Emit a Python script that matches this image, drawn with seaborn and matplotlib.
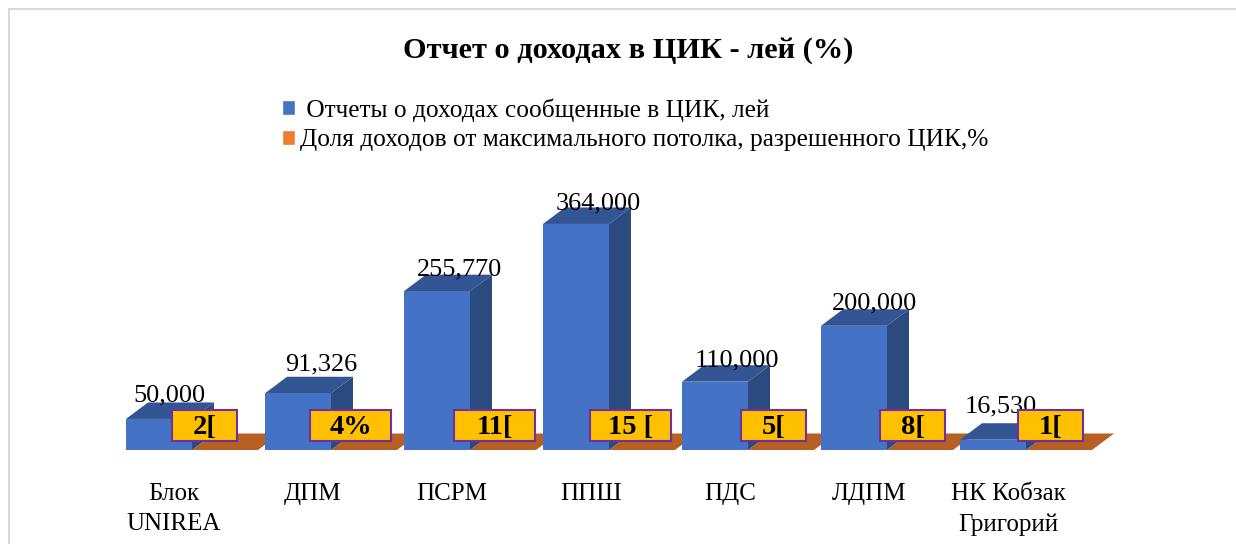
import matplotlib
matplotlib.use('Agg')
import matplotlib.pyplot as plt
from matplotlib.patches import Polygon, Rectangle
import pandas as pd
import seaborn as sns

categories = ['Блок\nUNIREA', 'ДПМ', 'ПСРМ', 'ППШ', 'ПДС', 'ЛДПМ', 'НК Кобзак\nГригорий']
income_lei = [50000, 91326, 255770, 364000, 110000, 200000, 16530]
share_pct = [2, 4, 11, 15, 5, 8, 1]
income_labels = ['50,000', '91,326', '255,770', '364,000', '110,000', '200,000', '16,530']
share_labels = ['2[', '4%', '11[', '15 [', '5[', '8[', '1[']
series_names = [' Отчеты о доходах сообщенные в ЦИК, лей',
                'Доля доходов от максимального потолка, разрешенного ЦИК,%']

W, H = 1236, 544
BASE = 450          # pixel row of the floor
STEP = 139          # pixels per category
PX_PER_LEI = 0.000621
DX, DY = 22, 16.5   # 3d depth in pixels

sns.set_theme(style='white')
plt.rcParams['font.family'] = ['Liberation Serif', 'DejaVu Serif']

fig = plt.figure(figsize=(W / 100, H / 100), dpi=100)
ax = fig.add_axes([0, (H - BASE) / H, 1, (BASE - 150) / H])

df = pd.DataFrame({
    'cat': categories * 2,
    'val': income_lei + share_pct,
    'series': [series_names[0]] * 7 + [series_names[1]] * 7,
})
sns.barplot(data=df, x='cat', y='val', hue='series', order=categories,
            palette=['#4472C4', '#ED7D31'], width=0.95, gap=0, saturation=1,
            errorbar=None, ax=ax, legend=False, linewidth=0, edgecolor='none')

ax.set_xlim(-192 / STEP, (W - 192) / STEP)
ax.set_ylim(0, (BASE - 150) / PX_PER_LEI / 1)
x_u = DX / STEP
y_u = DY / PX_PER_LEI

n = len(categories)
blue = ax.patches[:n]
orange = ax.patches[n:2 * n]


def poly(pts, color, z):
    ax.add_patch(Polygon(pts, closed=True, facecolor=color, edgecolor='none', zorder=z, clip_on=False))


for i in range(n):
    b = blue[i]
    x0, x1, h = b.get_x(), b.get_x() + b.get_width(), b.get_height()
    z = 2 + i
    b.set_zorder(z + 0.2)
    poly([(x0, h), (x1, h), (x1 + x_u, h + y_u), (x0 + x_u, h + y_u)], '#335593', z + 0.1)
    poly([(x1, 0), (x1, h), (x1 + x_u, h + y_u), (x1 + x_u, y_u)], '#2B4A80', z + 0.1)

    o = orange[i]
    ox0, ox1 = o.get_x(), o.get_x() + o.get_width()
    poly([(ox0, 0), (ox1, 0), (ox1 + x_u, y_u), (ox0 + x_u, y_u)], '#B85F23', z)

# labels above the blue bars, nudged by hand like in the original
label_dx = [10, 23, 23, 22, 22, 21, 8]
label_dy = [23, 29, 22, 21, 21, 22, 33]
for i in range(n):
    b = blue[i]
    cx = b.get_x() + b.get_width() / 2 + label_dx[i] / STEP
    cy = b.get_height() + label_dy[i] / PX_PER_LEI
    ax.text(cx, cy, income_labels[i], ha='center', va='center', fontsize=18.9,
            color='black', zorder=20, clip_on=False)

# yellow boxes with the share labels
box_w = [65, 81, 81, 81, 65, 65, 65]
box_c = [12.5, 19.5, 24.5, 21.5, 25.5, 25.5, 24.5]
for i in range(n):
    cx = orange[i].get_x() + box_c[i] / STEP
    cy = 25 / PX_PER_LEI
    w = box_w[i] / STEP
    ht = 31 / PX_PER_LEI
    ax.add_patch(Rectangle((cx - w / 2, cy - ht / 2), w, ht, facecolor='#FFC000',
                           edgecolor='#7030A0', linewidth=1.5, zorder=30, clip_on=False))
    ax.text(cx, cy - 2 / PX_PER_LEI, share_labels[i], ha='center', va='center', fontsize=20.5,
            fontweight='bold', color='black', zorder=31)

sns.despine(ax=ax, left=True, bottom=True, top=True, right=True)
ax.set_yticks([])
ax.set_xlabel('')
ax.set_ylabel('')
ax.set_xticks([i - 18 / STEP for i in range(n)])
ax.set_xticklabels(categories, fontsize=18, linespacing=1.45, color='black')
ax.tick_params(axis='x', length=0, pad=24)

fig.text(628 / W, 1 - 51 / H, 'Отчет о доходах в ЦИК - лей (%)', ha='center', va='center',
         fontsize=21.9, fontweight='bold', color='black')

handles = [Rectangle((0, 0), 1, 1, facecolor=c) for c in ['#4472C4', '#ED7D31']]
fig.legend(handles, series_names, loc='upper left', bbox_to_anchor=(282 / W, 1 - 98 / H),
           frameon=False, fontsize=18.3, handlelength=0.52, handleheight=0.52,
           handletextpad=0.2, labelspacing=0.3, borderpad=0, borderaxespad=0, labelcolor='black')

# thin frame of the pasted chart
fig.add_artist(plt.Line2D([9 / W, 9 / W], [0, 1 - 9 / H], color='#D9D9D9', lw=1.5))
fig.add_artist(plt.Line2D([9 / W, 1], [1 - 9 / H, 1 - 9 / H], color='#D9D9D9', lw=1.5))

fig.savefig('out.png', dpi=100)
